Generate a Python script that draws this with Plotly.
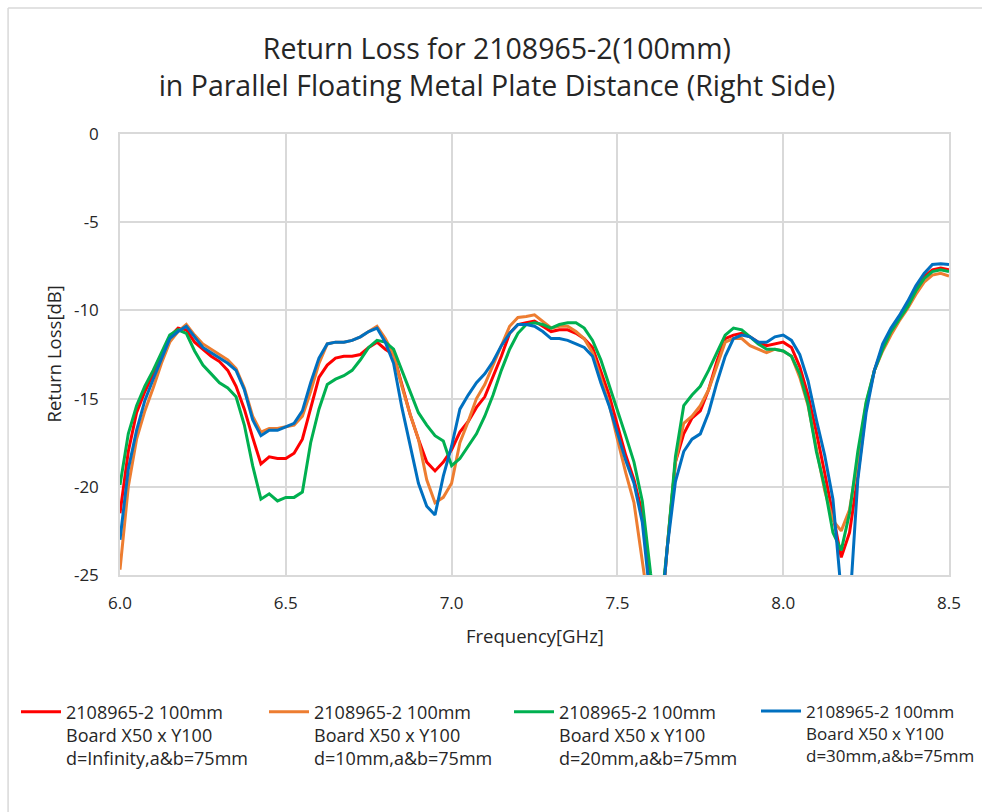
import plotly.graph_objects as go

freq = [round(6.0 + 0.025 * i, 3) for i in range(101)]

d_inf = [-21.5, -18.0, -15.8, -14.6, -13.6, -12.5, -11.5, -11.0, -11.1, -11.8,
         -12.2, -12.6, -12.9, -13.4, -14.3, -15.6, -17.2, -18.7, -18.3, -18.4,
         -18.4, -18.1, -17.3, -15.6, -13.8, -13.1, -12.7, -12.6, -12.6, -12.5,
         -12.1, -11.8, -12.2, -12.5, -14.2, -15.9, -17.3, -18.6, -19.1, -18.6,
         -17.9, -16.9, -16.3, -15.5, -14.9, -13.8, -12.6, -11.3, -10.8, -10.7,
         -10.6, -10.9, -11.2, -11.1, -11.1, -11.3, -11.6, -12.1, -13.4, -14.8,
         -16.5, -18.2, -19.6, -21.5, -26.0, -29.0, -23.5, -18.6, -17.0, -16.1,
         -15.7, -14.5, -12.9, -11.6, -11.4, -11.3, -11.5, -11.8, -12.0, -11.9,
         -11.8, -12.1, -13.2, -14.8, -16.9, -19.2, -21.5, -24.0, -22.6, -19.4,
         -15.5, -13.4, -12.1, -11.2, -10.4, -9.7, -8.8, -8.1, -7.7, -7.6, -7.7]

d_10 = [-24.7, -20.0, -17.3, -15.7, -14.4, -13.0, -11.8, -11.2, -10.8, -11.4,
        -11.9, -12.2, -12.5, -12.8, -13.3, -14.4, -16.0, -16.9, -16.7, -16.7,
        -16.6, -16.5, -16.0, -14.6, -13.0, -11.9, -11.8, -11.8, -11.7, -11.5,
        -11.2, -10.9, -11.6, -12.5, -14.3, -15.9, -17.3, -19.6, -20.9, -20.6,
        -19.8, -17.5, -16.3, -15.0, -14.2, -13.1, -12.0, -10.9, -10.4, -10.35,
        -10.25, -10.6, -11.0, -10.9, -10.9, -11.2, -11.6, -12.4, -13.8, -15.3,
        -17.3, -19.2, -20.9, -24.0, -27.5, -29.0, -23.5, -18.6, -16.4, -16.0,
        -15.4, -14.5, -13.1, -11.8, -11.6, -11.6, -12.0, -12.2, -12.4, -12.2,
        -12.3, -12.6, -13.8, -15.4, -17.8, -20.2, -21.9, -22.5, -21.3, -18.5,
        -15.3, -13.4, -12.3, -11.4, -10.6, -9.9, -9.1, -8.4, -8.0, -7.9, -8.05]

d_20 = [-19.9, -17.0, -15.4, -14.3, -13.4, -12.4, -11.4, -11.1, -11.3, -12.3,
        -13.1, -13.6, -14.1, -14.4, -14.9, -16.5, -18.8, -20.7, -20.4, -20.8,
        -20.6, -20.6, -20.3, -17.5, -15.6, -14.2, -13.9, -13.7, -13.4, -12.8,
        -12.1, -11.7, -11.8, -12.2, -13.4, -14.5, -15.8, -16.5, -17.1, -17.4,
        -18.8, -18.4, -17.7, -17.0, -16.0, -14.8, -13.4, -12.2, -11.3, -10.8,
        -10.7, -10.8, -11.0, -10.8, -10.7, -10.7, -11.0, -11.7, -12.8, -14.2,
        -15.6, -17.1, -18.6, -20.8, -24.9, -28.0, -23.5, -18.3, -15.4, -14.8,
        -14.3, -13.4, -12.4, -11.4, -11.0, -11.1, -11.5, -11.9, -12.2, -12.2,
        -12.3, -12.6, -13.6, -15.3, -18.0, -20.0, -22.6, -23.6, -21.5, -18.0,
        -15.2, -13.4, -12.2, -11.2, -10.5, -9.8, -8.9, -8.2, -7.8, -7.7, -7.8]

d_30 = [-23.0, -19.0, -16.8, -15.1, -13.9, -12.8, -11.6, -11.2, -10.9, -11.5,
        -12.1, -12.4, -12.7, -13.0, -13.4, -14.5, -16.2, -17.1, -16.8, -16.8,
        -16.6, -16.4, -15.7, -14.1, -12.7, -11.9, -11.8, -11.8, -11.7, -11.5,
        -11.2, -11.0, -11.8, -13.0, -15.5, -17.7, -19.8, -21.1, -21.6, -19.4,
        -17.7, -15.6, -14.8, -14.1, -13.6, -12.9, -12.0, -11.3, -10.8, -10.8,
        -10.9, -11.2, -11.6, -11.6, -11.7, -11.9, -12.1, -12.6, -14.1, -15.4,
        -16.9, -18.5, -19.8, -22.0, -26.5, -29.0, -23.5, -19.7, -18.0, -17.3,
        -17.0, -15.8, -14.1, -12.6, -11.6, -11.4, -11.5, -11.8, -11.8, -11.5,
        -11.4, -11.7, -12.5, -14.0, -16.2, -18.2, -20.7, -26.0, -27.0, -19.6,
        -15.8, -13.4, -11.9, -11.0, -10.3, -9.5, -8.6, -7.9, -7.4, -7.35, -7.4]

names = [
    "2108965-2 100mm<br>Board X50 x Y100<br>d=Infinity,a&b=75mm",
    "2108965-2 100mm<br>Board X50 x Y100<br>d=10mm,a&b=75mm",
    "2108965-2 100mm<br>Board X50 x Y100<br>d=20mm,a&b=75mm",
    "2108965-2 100mm<br>Board X50 x Y100<br>d=30mm,a&b=75mm",
]
colors = ["#FF0000", "#ED7D31", "#00B050", "#0070C0"]
series = [d_inf, d_10, d_20, d_30]

x_ticks = [6.0, 6.5, 7.0, 7.5, 8.0, 8.5]
x_ticktext = ["6.0", "6.5", "7.0", "7.5", "8.0", "8.5"]
y_ticks = [0, -5, -10, -15, -20, -25]
y_ticktext = ["0", "-5", "-10", "-15", "-20", "-25"]

FONT = "Open Sans"
TXT = "#262626"
legend_ids = ["legend", "legend2", "legend3", "legend4"]
legend_px = [16, 264, 509, 756]
legend_fs = [18, 18, 18, 17]

fig = go.Figure()
for nm, col, ys, lid in zip(names, colors, series, legend_ids):
    fig.add_trace(go.Scatter(x=freq, y=ys, mode="lines", name=nm, legend=lid,
                             line=dict(color=col, width=3)))

legend_common = dict(xref="container", yref="container", xanchor="left",
                     y=0.146, yanchor="top", valign="top", itemwidth=40,
                     bgcolor="rgba(0,0,0,0)")
legends = {}
for lid, px, fs in zip(legend_ids, legend_px, legend_fs):
    legends[lid] = dict(legend_common, x=px / 982,
                        font=dict(family=FONT, size=fs, color=TXT))

fig.update_layout(
    width=982, height=812,
    margin=dict(l=120, r=33, t=134, b=237, autoexpand=False),
    paper_bgcolor="white", plot_bgcolor="white",
    font=dict(family=FONT, size=16, color=TXT),
    title=dict(text="Return Loss for 2108965-2(100mm)<br>in Parallel Floating Metal Plate Distance (Right Side)",
               x=0.506, xanchor="center", y=0.927, yanchor="middle",
               font=dict(family=FONT, size=28.5, color=TXT)),
    showlegend=True,
    shapes=[
        dict(type="line", xref="paper", yref="paper",
             x0=-0.135, x1=1.2, y0=(575 - 8) / 441, y1=(575 - 8) / 441,
             line=dict(color="#D9D9D9", width=1.5)),
        dict(type="line", xref="paper", yref="paper",
             x0=-0.135, x1=-0.135, y0=(575 - 8) / 441, y1=-0.6,
             line=dict(color="#D9D9D9", width=1.5)),
    ],
    annotations=[
        dict(text="Frequency[GHz]", xref="paper", yref="paper",
             x=0.5, y=-(635 - 575) / 441, xanchor="center", yanchor="middle",
             showarrow=False, font=dict(family=FONT, size=18.5, color=TXT)),
        dict(text="Return Loss[dB]", xref="paper", yref="paper",
             x=-(120 - 53) / 829, y=0.5, xanchor="center", yanchor="middle",
             textangle=-90, showarrow=False,
             font=dict(family=FONT, size=18.5, color=TXT)),
    ],
    **legends,
)

fig.update_xaxes(range=[6.0, 8.5], tickvals=x_ticks, ticktext=x_ticktext,
                 showgrid=True, gridcolor="#D9D9D9", gridwidth=1.5,
                 showline=True, linecolor="#D9D9D9", linewidth=1.5, mirror=True,
                 zeroline=False, ticks="", ticklabelstandoff=12, automargin=False,
                 tickfont=dict(family=FONT, size=17, color=TXT))
fig.update_yaxes(range=[-25, 0], tickvals=y_ticks, ticktext=y_ticktext,
                 showgrid=True, gridcolor="#D9D9D9", gridwidth=1.5,
                 showline=True, linecolor="#D9D9D9", linewidth=1.5, mirror=True,
                 zeroline=False, ticks="", ticklabelstandoff=16, automargin=False,
                 tickfont=dict(family=FONT, size=17, color=TXT))

fig.write_html("out.html")
